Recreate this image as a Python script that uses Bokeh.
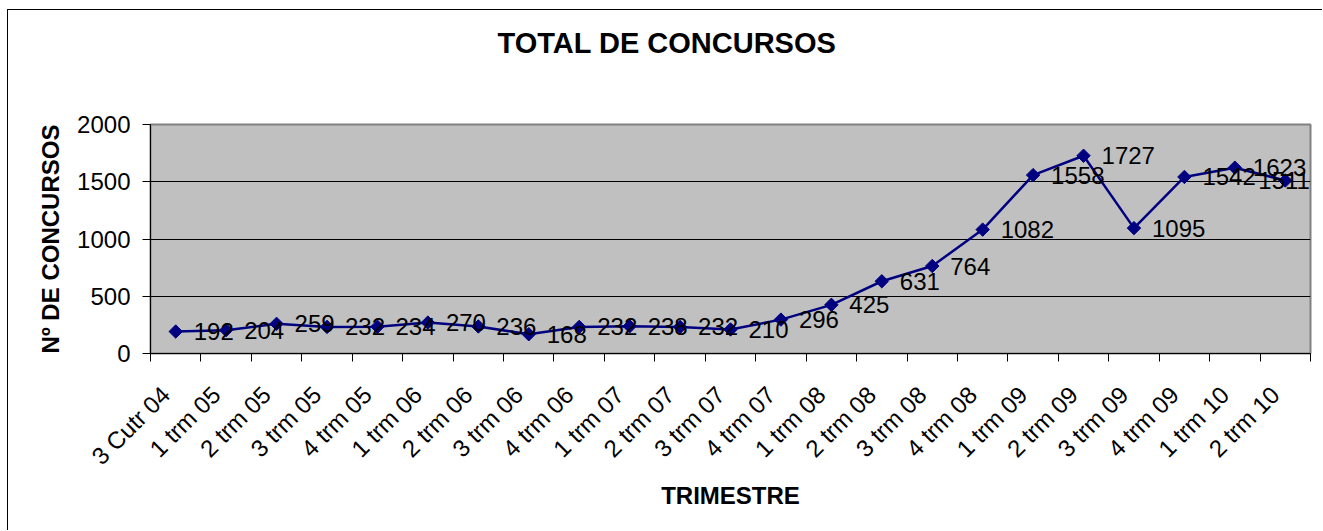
import numpy as np
from bokeh.plotting import figure
from bokeh.models import Range1d, FixedTicker, ColumnDataSource, LabelSet, Title
from bokeh.core.properties import value
from bokeh.embed import file_html
from bokeh.resources import INLINE

trimestres = ["3 Cutr 04", "1 trm 05", "2 trm 05", "3 trm 05", "4 trm 05",
              "1 trm 06", "2 trm 06", "3 trm 06", "4 trm 06",
              "1 trm 07", "2 trm 07", "3 trm 07", "4 trm 07",
              "1 trm 08", "2 trm 08", "3 trm 08", "4 trm 08",
              "1 trm 09", "2 trm 09", "3 trm 09", "4 trm 09",
              "1 trm 10", "2 trm 10"]
concursos = [192, 204, 259, 232, 234, 270, 236, 168, 232, 238, 232, 210,
             296, 425, 631, 764, 1082, 1558, 1727, 1095, 1542, 1623, 1511]
y_ticks = [0, 500, 1000, 1500, 2000]
title_text = "TOTAL DE CONCURSOS"

FONT = "Liberation Sans"
n = len(trimestres)
Y_MAX = 2000
FIG_W, FIG_H = 1315, 521
ML, MR, MT, MB = 142, 13, 114, 178

xs = [i + 0.5 for i in range(n)]
label_pos = [i + 0.3 for i in range(n)]
src = ColumnDataSource(dict(x=xs, y=concursos))
src_lbl = ColumnDataSource(dict(x=xs[:-1], y=concursos[:-1],
                                lbl=[str(v) for v in concursos[:-1]]))
src_last = ColumnDataSource(dict(x=xs[-1:], y=concursos[-1:],
                                 lbl=[str(v) for v in concursos[-1:]]))

p = figure(width=FIG_W, height=FIG_H, output_backend="svg", toolbar_location=None,
           title=None,
           x_range=Range1d(0, n), y_range=Range1d(0, Y_MAX),
           min_border_left=ML, min_border_right=MR,
           min_border_top=MT, min_border_bottom=MB,
           background_fill_color="#C0C0C0", border_fill_color="white")
p.styles = {"margin-left": "8px", "margin-top": "10px",
            "box-shadow": "-1px -1px 0 0 black"}

p.outline_line_color = "#808080"
p.outline_line_width = 2

# spacer between frame and title, then the title itself
p.add_layout(Title(text=" ", text_font_size="1px", standoff=63), "above")
p.add_layout(Title(text=title_text, align="left", offset=347, standoff=0,
                   text_font=FONT, text_font_size="29px",
                   text_font_style="bold", text_color="black"), "above")

# x axis
xa = p.xaxis[0]
xa.ticker = FixedTicker(ticks=label_pos, minor_ticks=list(range(n + 1)))
xa.major_label_overrides = {x: t for x, t in zip(label_pos, trimestres)}
xa.major_tick_out = 0
xa.major_tick_in = 0
xa.minor_tick_out = 8
xa.minor_tick_in = 0
xa.minor_tick_line_color = "black"
xa.axis_line_color = "black"
xa.major_label_orientation = np.pi / 4
xa.major_label_standoff = 29
xa.major_label_text_font = FONT
xa.major_label_text_font_size = "24px"
xa.major_label_text_color = "black"
xa.axis_label = "TRIMESTRE"
xa.axis_label_text_font = FONT
xa.axis_label_text_font_size = "24px"
xa.axis_label_text_font_style = "bold"
xa.axis_label_text_color = "black"
xa.axis_label_standoff = 0

# y axis
ya = p.yaxis[0]
ya.ticker = FixedTicker(ticks=y_ticks, minor_ticks=[])
ya.major_tick_out = 8
ya.major_tick_in = 0
ya.major_tick_line_color = "black"
ya.axis_line_color = "black"
ya.major_label_standoff = 12
ya.major_label_text_font = FONT
ya.major_label_text_font_size = "24px"
ya.major_label_text_color = "black"
ya.axis_label = "Nº DE CONCURSOS"
ya.axis_label_text_font = FONT
ya.axis_label_text_font_size = "24px"
ya.axis_label_text_font_style = "bold"
ya.axis_label_text_color = "black"
ya.axis_label_standoff = 10

p.xgrid.visible = False
p.ygrid.ticker = FixedTicker(ticks=y_ticks)
p.ygrid.grid_line_color = "black"
p.ygrid.grid_line_width = 1

p.line("x", "y", source=src, line_color="#000080", line_width=2.5)
p.scatter("x", "y", source=src, marker="square", angle=np.pi / 4, size=9.5,
          fill_color="#000080", line_color="#000080")

common = dict(text_align="left", text_baseline="middle",
              text_font=value(FONT), text_font_size="24px", text_color="black")
p.add_layout(LabelSet(x="x", y="y", text="lbl", source=src_lbl, x_offset=18, **common))
p.add_layout(LabelSet(x="x", y="y", text="lbl", source=src_last, x_offset=-27, **common))

open("out.html", "w").write(file_html(p, INLINE))
